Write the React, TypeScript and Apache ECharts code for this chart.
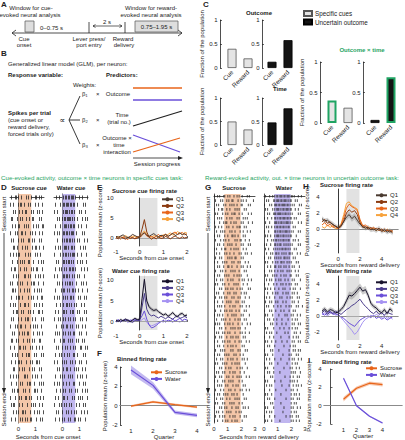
import React, { useEffect, useRef } from 'react';
import * as echarts from 'echarts';

const FF = '"Liberation Sans", "DejaVu Sans", Arial, sans-serif';
const GREEN = '#1fa463';
const ORANGE = '#e8651a';
const PURPLE = '#6a4fd9';
const AX = '#222';

// ---------- Panel C data ----------
const cCats = ['Cue', 'Reward'];
const outcomeSpecific = [0.4, 0.2];
const outcomeUncertain = [0.13, 0.58];
const timeSpecific = [0.5, 0.33];
const timeUncertain = [0.48, 0.78];
const interSpecific = [0.37, 0.25];
const interUncertain = [0.05, 0.75];

// ---------- Raster data (| = spike) ----------
const dSucrose = [
  ".|...||.|..|....|.|..|...||..|.|..",
  "|..|....|.||..|...|.|....|..|...|.",
  "...|.|...|..|..||....|.|...|.|..|.",
  ".||....|..|.|...|..|..||.....|.|..",
  "..|..|..||....|.|.|....|..|.|...||",
  "|....|.|...||..|....|.|..|...|..|.",
  ".|.|....|..|.|....||..|.|....|.|..",
  "...||..|....|..|.|....|..||..|...|",
  "|..|..|.||.....|..|.|....|.|..|...",
  "..|....|..|.|.|...||...|....|..|.|",
  ".|..||....|...|.|....|.|..||....|.",
  "...|..|.|.....||..|.|....|..|.|..|",
  "|.|....|..|.|....|...|.||...|....|",
  "..||.|....|...|..|.|....|..|.|.|..",
  ".|....|.||..|.....|..|.|...|...||.",
  "|..|.|....|...||..|.....|.|..|..|.",
  "...|..||...|.|....|.|..|....||..|.",
  ".|.|....|..|...|.||...|..|.....|.|",
  "|....|.|..||...|....|..|.|.|...|..",
  "..|.|....|..|.|..||....|...|.|..|.",
  ".||...|.|....|...|.|..|.|....||...",
  "|...|....||..|.|....|.|...|..|..|.",
  "..|..|.|....|...|.||....|.|....|.|",
  ".|...|..||.|....|...|.|...||.|....",
  "...||....|..|.|....|..|.|....|.|..",
  "|..|..|.|.....||.|....|..|.|...|..",
  ".|....|...|.|....|.||...|....|.|.|",
  "..|.|..||....|.|...|....||.|...|..",
  "|....|...|.|...||..|.|.....|..|..|",
  ".|.||....|..|....|...|.|.|...|..|.",
  "...|..|.|...||.|....|...|..|.|...|",
  ".|...|....|.|..|.|..||....|...|.|.",
];
const dWater = [
  "..|..|...|.||.||.|||.|...|..|....|",
  ".|....|..||.|||.||.||..|.....|.|..",
  "|..|.....|.|||.|.||.|....|.|...|..",
  "...|.|..|.||.||||.|.|..|....|..|.|",
  ".|....|...|||.|.||.||...|..|....|.",
  "|..|.|...||.||.|.|||..|.....|.|...",
  "...|....|.|.||.||.|.|..|.|....|..|",
  ".|..|.|...|||.|..||.|.....|..|.|..",
  "|.....|..|.||.|.|.|||..|...|....|.",
  "..|.|....||.|.||.|.|...|..|.|...|.",
  ".|...|.|..|.|..||.||.|.....|..|..|",
  "|..|.....||.||.|..|.|..|.|....|...",
  "...|.|..|..|.|.||.|...|....|.|..|.",
  ".|.....|.||..|.|..||.|..|...|....|",
  "|..|.|...|.|.|..||.|....|.|...|.|.",
  "..|...|..|..||.|.|..|.|....|..|...",
  ".|..|....||.|...|.||...|.|....|.|.",
  "|...|.|..|.|..|.|..|.|....|.|...|.",
  "..|....|.|..||..|.|...|.|...|..|..",
  ".|.|.|...|.|..|.|..||....|.|....|.",
  "|.....|..||...|.|.|...|.|...|.|...",
  "..|.|...|..|.|..|..|.|....||...|.|",
  ".|...|.|..|..|.|...||..|.....|.|..",
  "|..|....|.|.|...|.|..|...|.|....|.",
  "...|.|...|..||..|...|.|.|...|..|..",
  ".|....|.|.|...|.|.|....|..|.|...|.",
  "|..|.|...|..|..|...||....|...|.|..",
  "..|...|..|.|...|.|...|.|....|..|.|",
  ".|..|....||..|....|.|...|.|.|....|",
  "|....|.|..|.|..|.|....|..|...|.|..",
  "..|.|...|...|.|..|..|.|....|..|..|",
  ".|...|..|.|...|.|...||..|.|....|..",
];
const gSucrose = [
  "|..|.|...||..|.|...|..|.|..|....|.|.....",
  ".|....|.|...|.|..||....|..|.|..|......|.",
  "..|.|....|.|...|.|.|..|...||.....|.|....",
  "|...|..||...|..|....|.|.|....|.|........",
  ".|.|....|..|.|...|.||...|..|.....|..|...",
  "...|.|.|....|..|.|....|.|...|.|.|.......",
  "|....|...|.||...|..|.|....|.|....|...|..",
  ".|..|..|....|.|...|...|.||...|.|........",
  "..|...|.|.|....|.|..|....|..|...|..|....",
  "|..|.|....|..|...||.|..|....|.|.........",
  ".|....|..|.|..|.....|.|..||...|...|.....",
  "...|.|...|...|.|.|...|....|.|....|.|....",
  "|.|....|..||....|..|.|.|....|..|........",
  "..|..|....|.|..|...|....|.|...|.|...|...",
  ".|...|.|.....|.|.|..||....|.|...........",
  "|..|....|.|.|....|.|...|.|....|..|......",
  "...|.|...|...||..|....|...|.|...|..|....",
  ".|....|.|..|....|.|.|...|....|.|........",
  "|..|.|....|.|.|....|..|.|.|.....|.......",
  "..|...|.|....|..|.|.....|..|.|...|..|...",
  ".|.|....|.|...|....|.|.|....|...|.......",
  "|....|.|...|.|..|.|...|..|.|.....|.|....",
  "..|.|....|...|.|...|.|....|..|.|........",
  ".|...|.|..|.|....|.|...|.|....|...|.....",
  "|..|....|...|.|.|....|.|...|.|..........",
  "...|.|.|..|....|..|.|....|.|...|..|.....",
  ".|....|...|.|..|.|...|..|....|.|........",
  "|..|.|..|....|...|.|.|....|.|.....|.....",
  "..|....|.|.|...|....|..|.|...|.|........",
  ".|.|.|....|..|.|..|....|...|....|..|....",
  "|....|.|...|....|.|.|..|.|....|.........",
  "..|.|...|.|..|.|....|....|.|..|...|.....",
  ".|...|.|....|...|.|..|.|....|.|.........",
  "|..|....|.|..|.|....|...|.|....|..|.....",
  "...|.|...|...|..|.|..|.....|.|..........",
  ".|....|.|.|.....|.|....|.|....|.|.......",
  "|..|.|....|.|.|....|.|...|..|...........",
  "..|...|.|....|..|.|...|....|.|..|.......",
  ".|.|....|.|.|....|..|.|.|.....|.........",
  "|....|.|...|..|.|.....|..|.|....|.......",
  "..|.|...|.|....|..|.|....|...|..........",
  ".|...|.|....|.|...|...|.|.|....|..|.....",
  "|..|....|.|...|.|.|.....|..|............",
  "...|.|.|...|.|....|..|.|....|.|.........",
  ".|....|..|....|.|...|....|.|...|..|.....",
  "|..|.|...|.|.|...|.|..|.....|...........",
  "..|...|.|...|..|....|.|.|....|.|........",
  ".|.|....|.|....|.|.|....|..|............",
  "|....|.|..|.|....|...|.|....|.|..|......",
  "..|.|...|...|.|.|....|..|.|.............",
  ".|...|..|.|....|..|.|....|...|.|........",
  "|..|....|..|.|...|..|.|....|............",
];
const gWater = [
  ".|...|..|.|.||.|||.||.|||.||.|...|..|...",
  "..|.|....||.|||.||.|||.|.||...|.|.......",
  "|....|.|..|||.||.||||.||.|.|.|....|.|...",
  ".|.|....|.|.|||.|.||.|||.||...|..|......",
  "...|.|...|||.||||.|.||.|.|.|.....|.|....",
  "|..|...|..||.|.||.|||.||.||..|.|........",
  ".|...|....|||.|.||.|.|||.|.|.....|..|...",
  "..|.|..|..|.||.||.||.|.||...|.|.........",
  "|...|.....||.|.||.|.|||.|.|.|....|.|....",
  ".|.|..|...|.|||.|.||.|.|.||....|........",
  "...|...|.|.||.|.|.||.|.||...|.|..|......",
  "|.|...|...||.|.||..|.|.|.|.|.....|.|....",
  ".|..|....|.|.|.|.||.||.|.|...|.|........",
  "..|...|.|..||.|..|.|.|..||.|....|..|....",
  "|...|.|...|.|.|.|..||.|.|...|.|.........",
  ".|.|....|..|.|..||.|..|.|.|....|.|......",
  "...|..|...||..|.|..|.|..|..|.|....|.....",
  "|....|.|..|..|..|.|...|.|.|...|..|......",
  ".|.|....|.|.|...|..|.|...||....|.|......",
  "..|..|.|...|..|.|...|..|...|.|.....|....",
  "|...|....|..|...|.|..|..|.|...|.|.......",
  ".|.|..|...|...|...|.|....|..|.|....|....",
  "...|....|..|.|....|..|.|...|.|..|.......",
  "|.|..|....|....|.|....|..|.|....|.|.....",
  ".|...|.|...|.|....|..|.....|.|...|......",
  "..|.|....|...|..|....|..|.|....|.|...|..",
  "|....|.|...|....|..|....|...|.|.........",
  ".|.|....|.....|.....|.|...|.|...|..|....",
  "...|.|...|..|....|.....|...|..|.|.......",
  "|.....|.|...|....|...|.....|.|...|.|....",
  ".|.|.....|.....|...|....|..|..|.|.......",
  "..|..|.|....|.......|..|.....|.|...|....",
  "|....|...|......|.......|...|..|.|......",
  ".|.|...|...|.....|....|....|.|...|.|....",
  "...|.|....|........|.....|..|.|.........",
  "|.....|.|.....|.........|...|.|..|.|....",
  ".|.|....|.........|.....|.|....|.|......",
  "..|..|....|.....|.......|..|.|...|..|...",
  "|....|.|.....|........|....|..|.|.......",
  ".|.|.....|.........|.....|.|...|..|.....",
  "...|.|...|.....|..........|.|.|....|....",
  "|.....|.|...........|....|..|...|.|.....",
  ".|.|......|.....|........|.|.|..|.......",
  "..|..|.|.........|......|...|..|.|..|...",
  "|....|.....|.........|....|.|...|.......",
  ".|.|...|........|.........|..|.|..|.....",
  "...|.|....|..........|....|.|...|.|.....",
  "|.....|.|.......|.........|..|.|........",
  ".|.|.....|.........|......|.|...|..|....",
  "..|..|.|..........|.......|..|.|........",
  "|....|....|..........|...|.|...|.|......",
  ".|.|...|.......|..........|.|..|..|.....",
];

// ---------- Panel E data (seconds from cue onset) ----------
const eTime = [-1.0, -0.9, -0.8, -0.7, -0.6, -0.5, -0.4, -0.3, -0.2, -0.1, 0.0, 0.1, 0.2, 0.3, 0.4, 0.5, 0.6, 0.7, 0.8, 0.9, 1.0, 1.1, 1.2, 1.3, 1.4, 1.5, 1.6, 1.7, 1.8, 1.9, 2.0];
const eSucQ1 = [0.4, 0.2, 0.5, 0.8, 0.3, 0.1, 0.4, 0.9, 0.6, 0.3, 0.2, 0.9, 1.3, 0.7, 0.4, 0.8, 1.1, 0.6, 0.3, 0.7, 0.5, 0.9, 0.4, 0.8, 1.2, 0.6, 0.9, 1.3, 0.8, 1.1, 0.6];
const eSucQ2 = [0.1, -0.2, 0.3, 0.0, -0.3, 0.2, -0.1, 0.1, -0.2, 0.0, 0.3, 2.2, 4.6, 1.5, 0.2, -0.3, 0.1, -0.2, 0.3, -0.1, 0.0, 0.4, 0.1, -0.2, 0.2, 0.5, 0.1, -0.1, 0.3, 0.0, 0.2];
const eSucQ3 = [-0.2, 0.1, -0.3, 0.2, 0.0, -0.4, 0.3, 0.1, -0.2, 0.4, 0.1, 0.6, 1.4, 0.5, 0.2, 0.4, 0.0, 0.5, 0.9, 0.3, 0.6, 1.0, 0.4, 0.7, 1.2, 1.5, 0.9, 1.1, 1.4, 0.8, 1.0];
const eSucQ4 = [0.2, 0.4, -0.1, 0.3, 0.6, 0.2, -0.2, 0.5, 0.3, 0.1, 0.4, 1.1, 1.8, 0.9, 0.5, 0.2, 0.6, 0.4, 0.1, 0.5, 0.8, 0.4, 0.9, 1.3, 0.7, 1.1, 1.6, 1.2, 0.9, 1.4, 1.2];
const eWatQ1 = [0.3, 0.1, 0.5, 0.2, 0.6, 0.3, 0.0, 0.4, 0.8, 0.5, 0.6, 5.5, 10.2, 5.0, 3.6, 3.0, 2.7, 2.9, 2.4, 2.0, 1.6, 1.9, 1.3, 1.7, 2.2, 1.5, 1.2, 1.8, 2.0, 1.4, 1.6];
const eWatQ1Err = [0.3, 0.3, 0.3, 0.3, 0.3, 0.3, 0.3, 0.3, 0.3, 0.3, 0.4, 0.9, 1.2, 0.8, 0.5, 0.5, 0.4, 0.4, 0.4, 0.4, 0.4, 0.4, 0.4, 0.4, 0.4, 0.4, 0.4, 0.4, 0.4, 0.4, 0.4];
const eWatQ2 = [0.0, 0.3, -0.1, 0.4, 0.2, 0.5, 0.1, -0.2, 0.3, 0.4, 0.2, 3.5, 6.8, 3.0, 1.8, 1.4, 1.6, 1.2, 0.9, 1.3, 1.0, 0.7, 1.2, 0.9, 0.6, 1.1, 1.4, 0.8, 1.0, 1.3, 0.9];
const eWatQ3 = [0.2, 0.5, 0.0, 0.3, 0.6, 0.1, 0.4, 0.2, 0.7, 0.3, 0.5, 1.4, 2.6, 0.6, -0.8, -1.5, -1.3, -0.9, -0.4, 0.0, 0.3, -0.1, 0.4, 0.2, 0.6, 0.1, 0.5, 0.8, 0.3, 0.6, 0.4];
const eWatQ4 = [-0.1, 0.2, 0.4, 0.0, 0.3, -0.2, 0.2, 0.5, 0.1, 0.3, 0.0, 0.5, 0.9, -0.2, -0.7, -1.0, -0.8, -0.5, -0.2, 0.1, -0.1, 0.3, 0.0, 0.2, -0.2, 0.4, 0.1, -0.1, 0.3, 0.0, 0.2];

// ---------- Panel F data (quarters) ----------
const quarters = [1, 2, 3, 4];
const fSucrose = [-0.05, 0.4, 0.1, -0.15];
const fSucroseErr = [0.12, 0.12, 0.12, 0.12];
const fWater = [3.7, 2.1, -0.7, -1.0];
const fWaterErr = [0.45, 0.35, 0.2, 0.2];

// ---------- Panel H data (seconds from reward delivery) ----------
const hTime = [-1.5, -1.25, -1.0, -0.75, -0.5, -0.25, 0.0, 0.25, 0.5, 0.75, 1.0, 1.25, 1.5, 1.75, 2.0, 2.25, 2.5, 2.75, 3.0, 3.25, 3.5, 3.75, 4.0, 4.25, 4.5, 4.75, 5.0];
const hSucQ1 = [1.3, 1.0, 1.1, 0.8, 0.6, 0.3, 0.2, 0.4, 0.9, 1.5, 1.8, 1.3, 1.6, 1.1, 0.6, 0.3, 0.1, 0.2, -0.1, 0.0, -0.2, 0.1, -0.3, -0.1, -0.4, -0.2, -0.5];
const hSucQ1Err = [0.3, 0.3, 0.3, 0.3, 0.3, 0.3, 0.3, 0.3, 0.35, 0.4, 0.4, 0.4, 0.4, 0.4, 0.35, 0.3, 0.3, 0.3, 0.3, 0.3, 0.3, 0.3, 0.3, 0.3, 0.3, 0.3, 0.3];
const hSucQ2 = [0.9, 1.2, 0.7, 0.9, 0.5, 0.4, 0.1, 0.3, 1.0, 2.0, 2.4, 2.1, 2.3, 1.8, 0.8, 0.2, 0.3, 0.0, 0.2, -0.1, 0.1, -0.2, 0.0, -0.3, -0.1, -0.4, -0.2];
const hSucQ3 = [0.5, 0.8, 0.4, 0.6, 0.2, 0.3, 0.0, 0.5, 1.4, 2.6, 3.1, 2.8, 2.6, 2.3, 1.2, 0.4, 0.5, 0.2, 0.0, 0.2, -0.1, 0.1, -0.3, 0.0, -0.2, -0.1, -0.3];
const hSucQ4 = [0.3, 0.1, 0.5, 0.2, 0.4, 0.0, 0.2, 0.6, 1.8, 3.2, 3.4, 2.9, 2.7, 2.5, 1.0, 0.3, 0.1, 0.3, -0.1, 0.1, -0.2, 0.0, -0.1, -0.3, 0.0, -0.2, -0.4];
const hWatQ1 = [0.6, 0.9, 0.5, 0.8, 0.7, 0.4, 0.5, 0.8, 1.2, 1.9, 2.6, 2.5, 2.8, 3.2, 3.6, 3.1, 3.3, 2.6, 1.6, 1.2, 1.0, 0.6, 0.4, 0.8, 0.3, 0.9, 0.6];
const hWatQ1Err = [0.3, 0.3, 0.3, 0.3, 0.3, 0.3, 0.3, 0.3, 0.35, 0.4, 0.45, 0.45, 0.45, 0.45, 0.45, 0.45, 0.45, 0.4, 0.35, 0.3, 0.3, 0.3, 0.3, 0.3, 0.3, 0.3, 0.3];
const hWatQ2 = [0.4, 0.7, 0.2, 0.5, 0.3, 0.6, 0.4, 0.2, 0.5, 0.8, 1.0, 1.3, 1.5, 1.8, 2.1, 1.6, 1.2, 0.9, 0.5, 0.3, 0.6, 0.2, 0.4, 0.1, 0.5, 0.3, 0.2];
const hWatQ3 = [0.3, 0.1, 0.4, 0.6, 0.2, 0.3, 0.1, -0.1, -0.3, -0.6, -0.9, -1.1, -1.3, -0.9, -0.5, -0.3, -0.1, 0.0, -0.2, 0.1, -0.3, -0.1, -0.4, -0.2, -0.5, -0.3, -0.1];
const hWatQ4 = [0.2, 0.4, 0.0, 0.3, 0.5, 0.1, 0.2, -0.2, -0.6, -1.0, -1.4, -1.8, -2.3, -2.0, -1.4, -0.8, -0.4, -0.2, 0.1, -0.1, 0.2, 0.0, -0.2, 0.1, -0.3, -0.1, -0.4];

// ---------- Panel I data ----------
const iSucrose = [0.7, 1.9, 2.45, 2.3];
const iSucroseErr = [0.25, 0.2, 0.2, 0.2];
const iWater = [3.0, 0.0, -1.15, -1.9];
const iWaterErr = [0.1, 0.08, 0.08, 0.08];

const SUC_Q = ['#4a3a30', '#8b3a10', '#e8651a', '#f7a23c'];
const WAT_Q = ['#17122b', '#4a3c8c', '#6a4fd9', '#a592f2'];

function rasterPoints(rows: string[], x0: number, bin: number) {
  const pts: number[][] = [];
  rows.forEach((r, ri) => {
    for (let i = 0; i < r.length; i++) if (r[i] === '|') pts.push([x0 + (i + 0.5) * bin, ri]);
  });
  return pts;
}

const txt = (text: string, x: number, y: number, o: any = {}) => ({
  type: 'text', x, y, rotation: o.rot || 0, silent: true, z: 20,
  style: {
    text, fontSize: o.size || 6, fontFamily: FF, fontWeight: o.bold ? 'bold' : 'normal',
    fill: o.color || AX, align: o.align || 'left', verticalAlign: 'middle',
    textAlign: o.align || 'left', textVerticalAlign: 'middle',
  },
});
const ln = (x1: number, y1: number, x2: number, y2: number, color = AX, w = 0.8) => ({
  type: 'line', silent: true, z: 20, shape: { x1, y1, x2, y2 }, style: { stroke: color, lineWidth: w },
});
const pl = (pts: number[][], color = AX, w = 0.8) => ({
  type: 'polyline', silent: true, z: 20, shape: { points: pts }, style: { stroke: color, lineWidth: w, fill: null },
});
const pg = (pts: number[][], color = AX) => ({
  type: 'polygon', silent: true, z: 20, shape: { points: pts }, style: { fill: color, stroke: null },
});
const rc = (x: number, y: number, w: number, h: number, fill: string, stroke: string) => ({
  type: 'rect', silent: true, z: 20, shape: { x, y, width: w, height: h }, style: { fill, stroke, lineWidth: 0.8 },
});

const axisLineOn = { show: true, lineStyle: { color: AX, width: 0.8 } };
const inTick = { show: true, inside: true, length: 2, lineStyle: { color: AX, width: 0.7 } };
const lab = (o: any = {}) => ({ fontSize: 6, color: AX, fontFamily: FF, margin: 2.5, ...o });
const only = (vals: number[]) => (v: number) => (vals.some((a) => Math.abs(a - v) < 1e-6) ? String(v) : '');
const nameStyle = { fontSize: 6, color: AX, fontFamily: FF };

function bandSeries(idx: number, name: string, xs: number[], mean: number[], err: number[], fill: string) {
  return {
    type: 'custom', name, xAxisIndex: idx, yAxisIndex: idx, silent: true, z: 1,
    data: xs.map((x, i) => [x, mean[i] - err[i], mean[i] + err[i]]),
    encode: { x: 0, y: [1, 2] },
    renderItem: (params: any, api: any) => {
      if (params.dataIndex !== 0) return { type: 'group', children: [] };
      const upper = xs.map((x, i) => api.coord([x, mean[i] + err[i]]));
      const lower = xs.map((x, i) => api.coord([x, mean[i] - err[i]])).reverse();
      return { type: 'polygon', shape: { points: upper.concat(lower) }, style: { fill } };
    },
  };
}

function buildOption() {
  const grids = [
    { left: 224, top: 20, width: 32, height: 48 },
    { left: 264, top: 20, width: 32, height: 48 },
    { left: 224, top: 98, width: 32, height: 47 },
    { left: 264, top: 98, width: 32, height: 47 },
    { left: 324, top: 62, width: 32, height: 61 },
    { left: 367, top: 62, width: 32, height: 61 },
    { left: 10, top: 194, width: 34, height: 229 },
    { left: 54, top: 194, width: 34, height: 229 },
    { left: 116, top: 198, width: 71, height: 48 },
    { left: 116, top: 276, width: 71, height: 54 },
    { left: 120, top: 367, width: 88, height: 58 },
    { left: 214, top: 194, width: 41, height: 229 },
    { left: 264, top: 194, width: 41, height: 229 },
    { left: 322, top: 189, width: 76, height: 64 },
    { left: 322, top: 276, width: 76, height: 64 },
    { left: 324, top: 369, width: 78, height: 55 },
  ].map((g) => ({ ...g, containLabel: false, outerBoundsMode: 'none' }));

  const xAxis: any[] = [];
  const yAxis: any[] = [];
  const cOffsets = [4, 2, 4, 2, 4, 4];
  for (let i = 0; i < 6; i++) {
    xAxis.push({
      type: 'category', gridIndex: i, data: cCats, axisLine: { show: false }, axisTick: { show: false },
      axisLabel: lab({ rotate: 45, fontSize: 6.3, margin: 3 }),
    });
    yAxis.push({
      type: 'value', gridIndex: i, min: 0, max: 1, interval: 0.5, offset: cOffsets[i],
      axisLine: axisLineOn, axisTick: inTick, splitLine: { show: false }, axisLabel: lab(),
      name: i % 2 === 0 ? 'Fraction of the population' : '', nameLocation: 'middle', nameGap: 12, nameTextStyle: nameStyle,
    });
  }
  for (const gi of [6, 7]) {
    xAxis.push({
      type: 'value', gridIndex: gi, min: -0.5, max: 1.5, interval: 0.5, axisLine: axisLineOn,
      axisTick: { show: false }, splitLine: { show: false }, axisLabel: lab({ formatter: only([0, 1]), margin: 3 }),
    });
    yAxis.push({
      type: 'value', gridIndex: gi, min: -0.5, max: dSucrose.length - 0.5, inverse: true,
      axisLine: axisLineOn, axisTick: { show: false }, axisLabel: { show: false }, splitLine: { show: false },
    });
  }
  xAxis.push({
    type: 'value', gridIndex: 8, min: -1, max: 2, interval: 1, axisLine: axisLineOn, axisTick: inTick,
    splitLine: { show: false }, axisLabel: lab(), name: 'Seconds from cue onset', nameLocation: 'middle', nameGap: 9, nameTextStyle: nameStyle,
  });
  yAxis.push({
    type: 'value', gridIndex: 8, min: -2, max: 10, interval: 1, axisLine: axisLineOn, axisTick: { show: false },
    splitLine: { show: false }, axisLabel: lab({ formatter: only([0, 5, 10]) }),
    name: 'Population mean (z-score)', nameLocation: 'middle', nameGap: 12, nameTextStyle: nameStyle,
  });
  xAxis.push({
    type: 'value', gridIndex: 9, min: -1, max: 2, interval: 1, axisLine: axisLineOn, axisTick: inTick,
    splitLine: { show: false }, axisLabel: lab(), name: 'Seconds from cue onset', nameLocation: 'middle', nameGap: 9, nameTextStyle: nameStyle,
  });
  yAxis.push({
    type: 'value', gridIndex: 9, min: -2, max: 11, interval: 1, axisLine: axisLineOn, axisTick: { show: false },
    splitLine: { show: false }, axisLabel: lab({ formatter: only([0, 5, 10]) }),
    name: 'Population mean (z-score)', nameLocation: 'middle', nameGap: 12, nameTextStyle: nameStyle,
  });
  xAxis.push({
    type: 'value', gridIndex: 10, min: 0.5, max: 4.5, interval: 0.5, axisLine: axisLineOn, axisTick: { show: false },
    splitLine: { show: false }, axisLabel: lab({ formatter: only([1, 2, 3, 4]) }),
    name: 'Quarter', nameLocation: 'middle', nameGap: 9, nameTextStyle: nameStyle,
  });
  yAxis.push({
    type: 'value', gridIndex: 10, min: -2, max: 4, interval: 2, axisLine: axisLineOn, axisTick: inTick,
    splitLine: { show: false }, axisLabel: lab(),
    name: 'Population mean (z-score)', nameLocation: 'middle', nameGap: 12, nameTextStyle: nameStyle,
  });
  for (const gi of [11, 12]) {
    xAxis.push({
      type: 'value', gridIndex: gi, min: 0, max: 3, interval: 1, axisLine: axisLineOn,
      axisTick: { show: false }, splitLine: { show: false }, axisLabel: lab({ margin: 3 }),
    });
    yAxis.push({
      type: 'value', gridIndex: gi, min: -0.5, max: gSucrose.length - 0.5, inverse: true,
      axisLine: axisLineOn, axisTick: { show: false }, axisLabel: { show: false }, splitLine: { show: false },
    });
  }
  for (const gi of [13, 14]) {
    xAxis.push({
      type: 'value', gridIndex: gi, min: -1.5, max: 5.5, interval: 0.5, axisLine: axisLineOn, axisTick: { show: false },
      splitLine: { show: false }, axisLabel: lab({ formatter: only([0, 2, 4]) }),
      name: 'Seconds from reward delivery', nameLocation: 'middle', nameGap: 9, nameTextStyle: nameStyle,
    });
    yAxis.push({
      type: 'value', gridIndex: gi, min: -3, max: 5, interval: 1, axisLine: axisLineOn, axisTick: { show: false },
      splitLine: { show: false }, axisLabel: lab({ formatter: only([-2, 0, 2, 4]) }),
      name: 'Population mean (z-score)', nameLocation: 'middle', nameGap: 11, nameTextStyle: nameStyle,
    });
  }
  xAxis.push({
    type: 'value', gridIndex: 15, min: -0.5, max: 5.5, interval: 0.5, axisLine: axisLineOn, axisTick: { show: false },
    splitLine: { show: false }, axisLabel: lab({ formatter: only([1, 2, 3, 4]) }),
    name: 'Quarter', nameLocation: 'middle', nameGap: 9, nameTextStyle: nameStyle,
  });
  yAxis.push({
    type: 'value', gridIndex: 15, min: -2, max: 4, interval: 2, axisLine: axisLineOn, axisTick: inTick,
    splitLine: { show: false }, axisLabel: lab(),
    name: 'Population mean (z-score)', nameLocation: 'middle', nameGap: 11, nameTextStyle: nameStyle,
  });

  const series: any[] = [];
  const specStyle = { color: '#e4e4e4', borderColor: '#555', borderWidth: 0.8 };
  const uncStyle = { color: '#141414', borderColor: '#000', borderWidth: 0.8 };
  const hl = (arr: number[], idx: number) =>
    arr.map((v, i) => (i === idx ? { value: v, itemStyle: { borderColor: GREEN, borderWidth: 2 } } : v));
  const cSets: [any[], boolean][] = [
    [outcomeSpecific, true], [outcomeUncertain, false], [timeSpecific, true], [timeUncertain, false],
    [hl(interSpecific, 0), true], [hl(interUncertain, 1), false],
  ];
  cSets.forEach(([d, spec], i) => {
    series.push({
      type: 'bar', name: spec ? 'Specific cues' : 'Uncertain outcome', xAxisIndex: i, yAxisIndex: i, data: d,
      barWidth: 9, itemStyle: spec ? specStyle : uncStyle,
    });
  });

  const raster = (idx: number, rows: string[], x0: number, bin: number, band: [number, number], bandColor: string, h: number) => ({
    type: 'scatter', xAxisIndex: idx, yAxisIndex: idx, data: rasterPoints(rows, x0, bin), symbol: 'rect',
    symbolSize: [1, h], itemStyle: { color: '#262626' }, silent: true,
    markArea: { silent: true, itemStyle: { color: bandColor }, data: [[{ xAxis: band[0] }, { xAxis: band[1] }]] },
  });
  series.push(raster(6, dSucrose, -0.5, 2 / 34, [0, 0.75], '#f4c6a8', 4));
  series.push(raster(7, dWater, -0.5, 2 / 34, [0, 0.75], '#c0b6ef', 4));
  series.push(raster(11, gSucrose, 0, 0.075, [0.75, 1.95], '#f4c6a8', 2.6));
  series.push(raster(12, gWater, 0, 0.075, [0.75, 1.95], '#c0b6ef', 2.6));

  const guides = (band: [number, number]) => ({
    markArea: { silent: true, itemStyle: { color: '#e2e2e2' }, data: [[{ xAxis: band[0] }, { xAxis: band[1] }]] },
    markLine: {
      silent: true, symbol: ['none', 'none'], label: { show: false },
      data: [
        { yAxis: 0, lineStyle: { color: '#9a9a9a', width: 0.8, type: 'solid' } },
        { xAxis: 0, lineStyle: { color: '#333', width: 0.8, type: 'solid' } },
      ],
    },
  });
  const lines = (idx: number, prefix: string, xs: number[], sets: number[][], colors: string[], band: [number, number]) => {
    sets.forEach((vals, q) => {
      series.push({
        type: 'line', name: `${prefix}:Q${q + 1}`, xAxisIndex: idx, yAxisIndex: idx, symbol: 'none', showSymbol: false,
        data: xs.map((x, i) => [x, vals[i]]), lineStyle: { color: colors[q], width: 1 }, itemStyle: { color: colors[q] },
        z: 6 - q,
        ...(q === 0 ? guides(band) : {}),
      });
    });
  };
  lines(8, 'E1', eTime, [eSucQ1, eSucQ2, eSucQ3, eSucQ4], SUC_Q, [0, 0.75]);
  lines(9, 'E2', eTime, [eWatQ1, eWatQ2, eWatQ3, eWatQ4], WAT_Q, [0, 0.75]);
  lines(13, 'H1', hTime, [hSucQ1, hSucQ2, hSucQ3, hSucQ4], SUC_Q, [0.75, 1.95]);
  lines(14, 'H2', hTime, [hWatQ1, hWatQ2, hWatQ3, hWatQ4], WAT_Q, [0.75, 1.95]);
  series.push(bandSeries(9, 'E2:semQ1', eTime, eWatQ1, eWatQ1Err, 'rgba(110,110,110,0.35)'));
  series.push(bandSeries(13, 'H1:semQ1', hTime, hSucQ1, hSucQ1Err, 'rgba(110,110,110,0.3)'));
  series.push(bandSeries(14, 'H2:semQ1', hTime, hWatQ1, hWatQ1Err, 'rgba(110,110,110,0.35)'));

  const binned = (idx: number, prefix: string, label: string, mean: number[], err: number[], color: string, fill: string, zero: boolean) => {
    series.push(bandSeries(idx, `${prefix}:band${label}`, quarters, mean, err, fill));
    series.push({
      type: 'line', name: `${prefix}:${label}`, xAxisIndex: idx, yAxisIndex: idx, symbol: 'none',
      data: quarters.map((q, i) => [q, mean[i]]), lineStyle: { color, width: 1.2 }, itemStyle: { color }, z: 5,
      ...(zero ? {
        markLine: { silent: true, symbol: ['none', 'none'], label: { show: false },
          data: [{ yAxis: 0, lineStyle: { color: '#9a9a9a', width: 0.8, type: 'solid' } }] },
      } : {}),
    });
  };
  binned(10, 'F', 'Sucrose', fSucrose, fSucroseErr, ORANGE, 'rgba(232,101,26,0.35)', true);
  binned(10, 'F', 'Water', fWater, fWaterErr, PURPLE, 'rgba(106,79,217,0.4)', false);
  binned(15, 'I', 'Sucrose', iSucrose, iSucroseErr, ORANGE, 'rgba(232,101,26,0.35)', true);
  binned(15, 'I', 'Water', iWater, iWaterErr, PURPLE, 'rgba(106,79,217,0.4)', false);

  const qLegend = (prefix: string, left: number, top: number, names = ['Q1', 'Q2', 'Q3', 'Q4']) => ({
    data: names.map((n) => `${prefix}:${n}`), left, top, orient: 'vertical', itemWidth: 11, itemHeight: 5, itemGap: 0,
    padding: 0, selectedMode: false, formatter: (n: string) => n.split(':')[1],
    textStyle: { fontSize: 6, fontFamily: FF, color: AX, padding: [0, 0, 0, -2], lineHeight: 6.6 },
  });
  const legend = [
    {
      data: ['Specific cues', 'Uncertain outcome'], left: 303, top: 10, orient: 'vertical', itemWidth: 8, itemHeight: 5,
      itemGap: 1.5, padding: 0, selectedMode: false, icon: 'rect',
      textStyle: { fontSize: 6.3, fontFamily: FF, color: AX, padding: [0, 0, 0, -2] },
    },
    qLegend('E1', 161, 196),
    qLegend('E2', 161, 278),
    qLegend('H1', 375, 192),
    qLegend('H2', 375, 279),
    qLegend('F', 150, 369, ['Sucrose', 'Water']),
    qLegend('I', 365, 365, ['Sucrose', 'Water']),
  ];

  const PI2 = Math.PI / 2;
  const graphic: any[] = [
    txt('A', 1, 4, { bold: true, size: 8 }),
    txt('Window for cue-', 31, 8, { align: 'center' }),
    txt('evoked neural analysis', 30, 15, { align: 'center' }),
    rc(25, 21, 9, 11, '#dedede', '#666'),
    txt('0–0.75 s', 40, 28),
    ln(12, 33, 182, 33),
    pl([[16, 30], [12, 33], [16, 36]]),
    pl([[178, 30], [182, 33], [178, 36]]),
    ln(89, 22, 89, 33),
    ln(125, 22, 125, 33),
    ln(93, 26, 122, 26, AX, 0.7),
    pl([[95.5, 24.5], [93, 26], [95.5, 27.5]], AX, 0.7),
    pl([[119.5, 24.5], [122, 26], [119.5, 27.5]], AX, 0.7),
    txt('2 s', 107, 21.5, { align: 'center' }),
    txt('Window for reward-', 151, 8, { align: 'center' }),
    txt('evoked neural analysis', 151, 15, { align: 'center' }),
    rc(135, 21, 43, 11, '#dedede', '#666'),
    txt('0.75–1.95 s', 156.5, 27, { align: 'center' }),
    txt('Cue', 24, 39, { align: 'center' }),
    txt('onset', 24, 45, { align: 'center' }),
    txt('Lever press/', 89, 39, { align: 'center' }),
    txt('port entry', 89, 45, { align: 'center' }),
    txt('Reward', 123, 39, { align: 'center' }),
    txt('delivery', 124, 45, { align: 'center' }),
    txt('B', 1, 53, { bold: true, size: 8 }),
    txt('Generalized linear model (GLM), per neuron:', 8, 64),
    txt('Response variable:', 8, 75, { bold: true }),
    txt('Predictors:', 106, 75, { bold: true }),
    txt('Weights:', 73, 85),
    txt('β₁', 82, 94),
    txt('×', 96, 94),
    txt('Outcome', 118, 94, { align: 'center' }),
    ln(133, 88, 182, 88, ORANGE, 1.3),
    ln(133, 100, 182, 100, PURPLE, 1.3),
    txt('Spikes per trial', 8, 113, { bold: true }),
    txt('(cue onset or', 8, 120),
    txt('reward delivery,', 8, 127),
    txt('forced trials only)', 8, 134),
    txt('∝', 62, 120, { size: 8, align: 'center' }),
    ln(69, 120, 80, 96, AX, 0.9),
    ln(69, 120, 80, 120, AX, 0.9),
    ln(69, 120, 80, 144, AX, 0.9),
    txt('β₂', 82, 120),
    txt('×', 96, 120),
    txt('Time', 122, 115, { align: 'center' }),
    txt('(trial no.)', 119, 122, { align: 'center' }),
    ln(133, 126, 182, 111, AX, 1.3),
    txt('β₃', 82, 145),
    txt('×', 96, 145),
    txt('Outcome ×', 117, 138, { align: 'center' }),
    txt('time', 119, 145, { align: 'center' }),
    txt('interaction', 117, 152, { align: 'center' }),
    ln(133, 135, 180, 152, PURPLE, 1.3),
    ln(133, 152, 180, 138, ORANGE, 1.3),
    ln(133, 158, 180, 158, AX, 0.8),
    pg([[178, 156], [183, 158], [178, 160]]),
    txt('Session progress', 157, 164, { align: 'center' }),
    txt('C', 203, 4, { bold: true, size: 8 }),
    txt('Outcome', 259, 13, { bold: true, align: 'center' }),
    txt('Time', 280, 89, { bold: true, align: 'center' }),
    txt('Outcome × time', 362, 50, { bold: true, align: 'center', color: GREEN }),
    txt('Cue-evoked activity, outcome × time neurons in specific cues task:', 1, 177, { color: GREEN, size: 6.2 }),
    txt('Reward-evoked activity, out. × time neurons in uncertain outcome task:', 205, 177, { color: GREEN, size: 6.2 }),
    txt('D', 1, 187, { bold: true, size: 8 }),
    txt('Sucrose cue', 29, 188, { bold: true, align: 'center' }),
    txt('Water cue', 71, 188, { bold: true, align: 'center' }),
    txt('Session start', 4, 214, { rot: PI2, align: 'center' }),
    ln(4, 233, 4, 390, AX, 0.8),
    pg([[2, 388], [6, 388], [4, 394]]),
    txt('Session end', 4, 410, { rot: PI2, align: 'center' }),
    txt('Seconds from cue onset', 48, 437, { align: 'center' }),
    txt('E', 97, 187, { bold: true, size: 8 }),
    txt('Sucrose cue firing rate', 112, 191, { bold: true }),
    txt('Water cue firing rate', 112, 271, { bold: true }),
    txt('F', 97, 353, { bold: true, size: 8 }),
    txt('Binned firing rate', 117, 359, { bold: true }),
    txt('G', 205, 187, { bold: true, size: 8 }),
    txt('Sucrose', 234, 188, { bold: true, align: 'center' }),
    txt('Water', 284, 188, { bold: true, align: 'center' }),
    txt('Session start', 208, 214, { rot: PI2, align: 'center' }),
    ln(208, 233, 208, 390, AX, 0.8),
    pg([[206, 388], [210, 388], [208, 394]]),
    txt('Session end', 208, 410, { rot: PI2, align: 'center' }),
    txt('Seconds from reward delivery', 259, 437, { align: 'center' }),
    txt('H', 303, 186, { bold: true, size: 8 }),
    txt('Sucrose firing rate', 320, 185, { bold: true }),
    txt('Water firing rate', 326, 271, { bold: true }),
    txt('I', 308, 360, { bold: true, size: 8 }),
    txt('Binned firing rate', 322, 362, { bold: true }),
  ];

  return {
    animation: false,
    backgroundColor: '#fff',
    textStyle: { fontFamily: FF },
    grid: grids,
    xAxis,
    yAxis,
    series,
    legend,
    graphic,
  };
}

export default function App() {
  const ref = useRef<HTMLDivElement>(null);
  useEffect(() => {
    if (!ref.current) return;
    const chart = echarts.init(ref.current, undefined, { renderer: 'svg' });
    chart.setOption(buildOption() as any);
    return () => chart.dispose();
  }, []);
  return (
    <div
      ref={ref}
      style={{ position: 'absolute', left: 0, top: 0, width: 405, height: 440, background: '#fff' }}
    />
  );
}
